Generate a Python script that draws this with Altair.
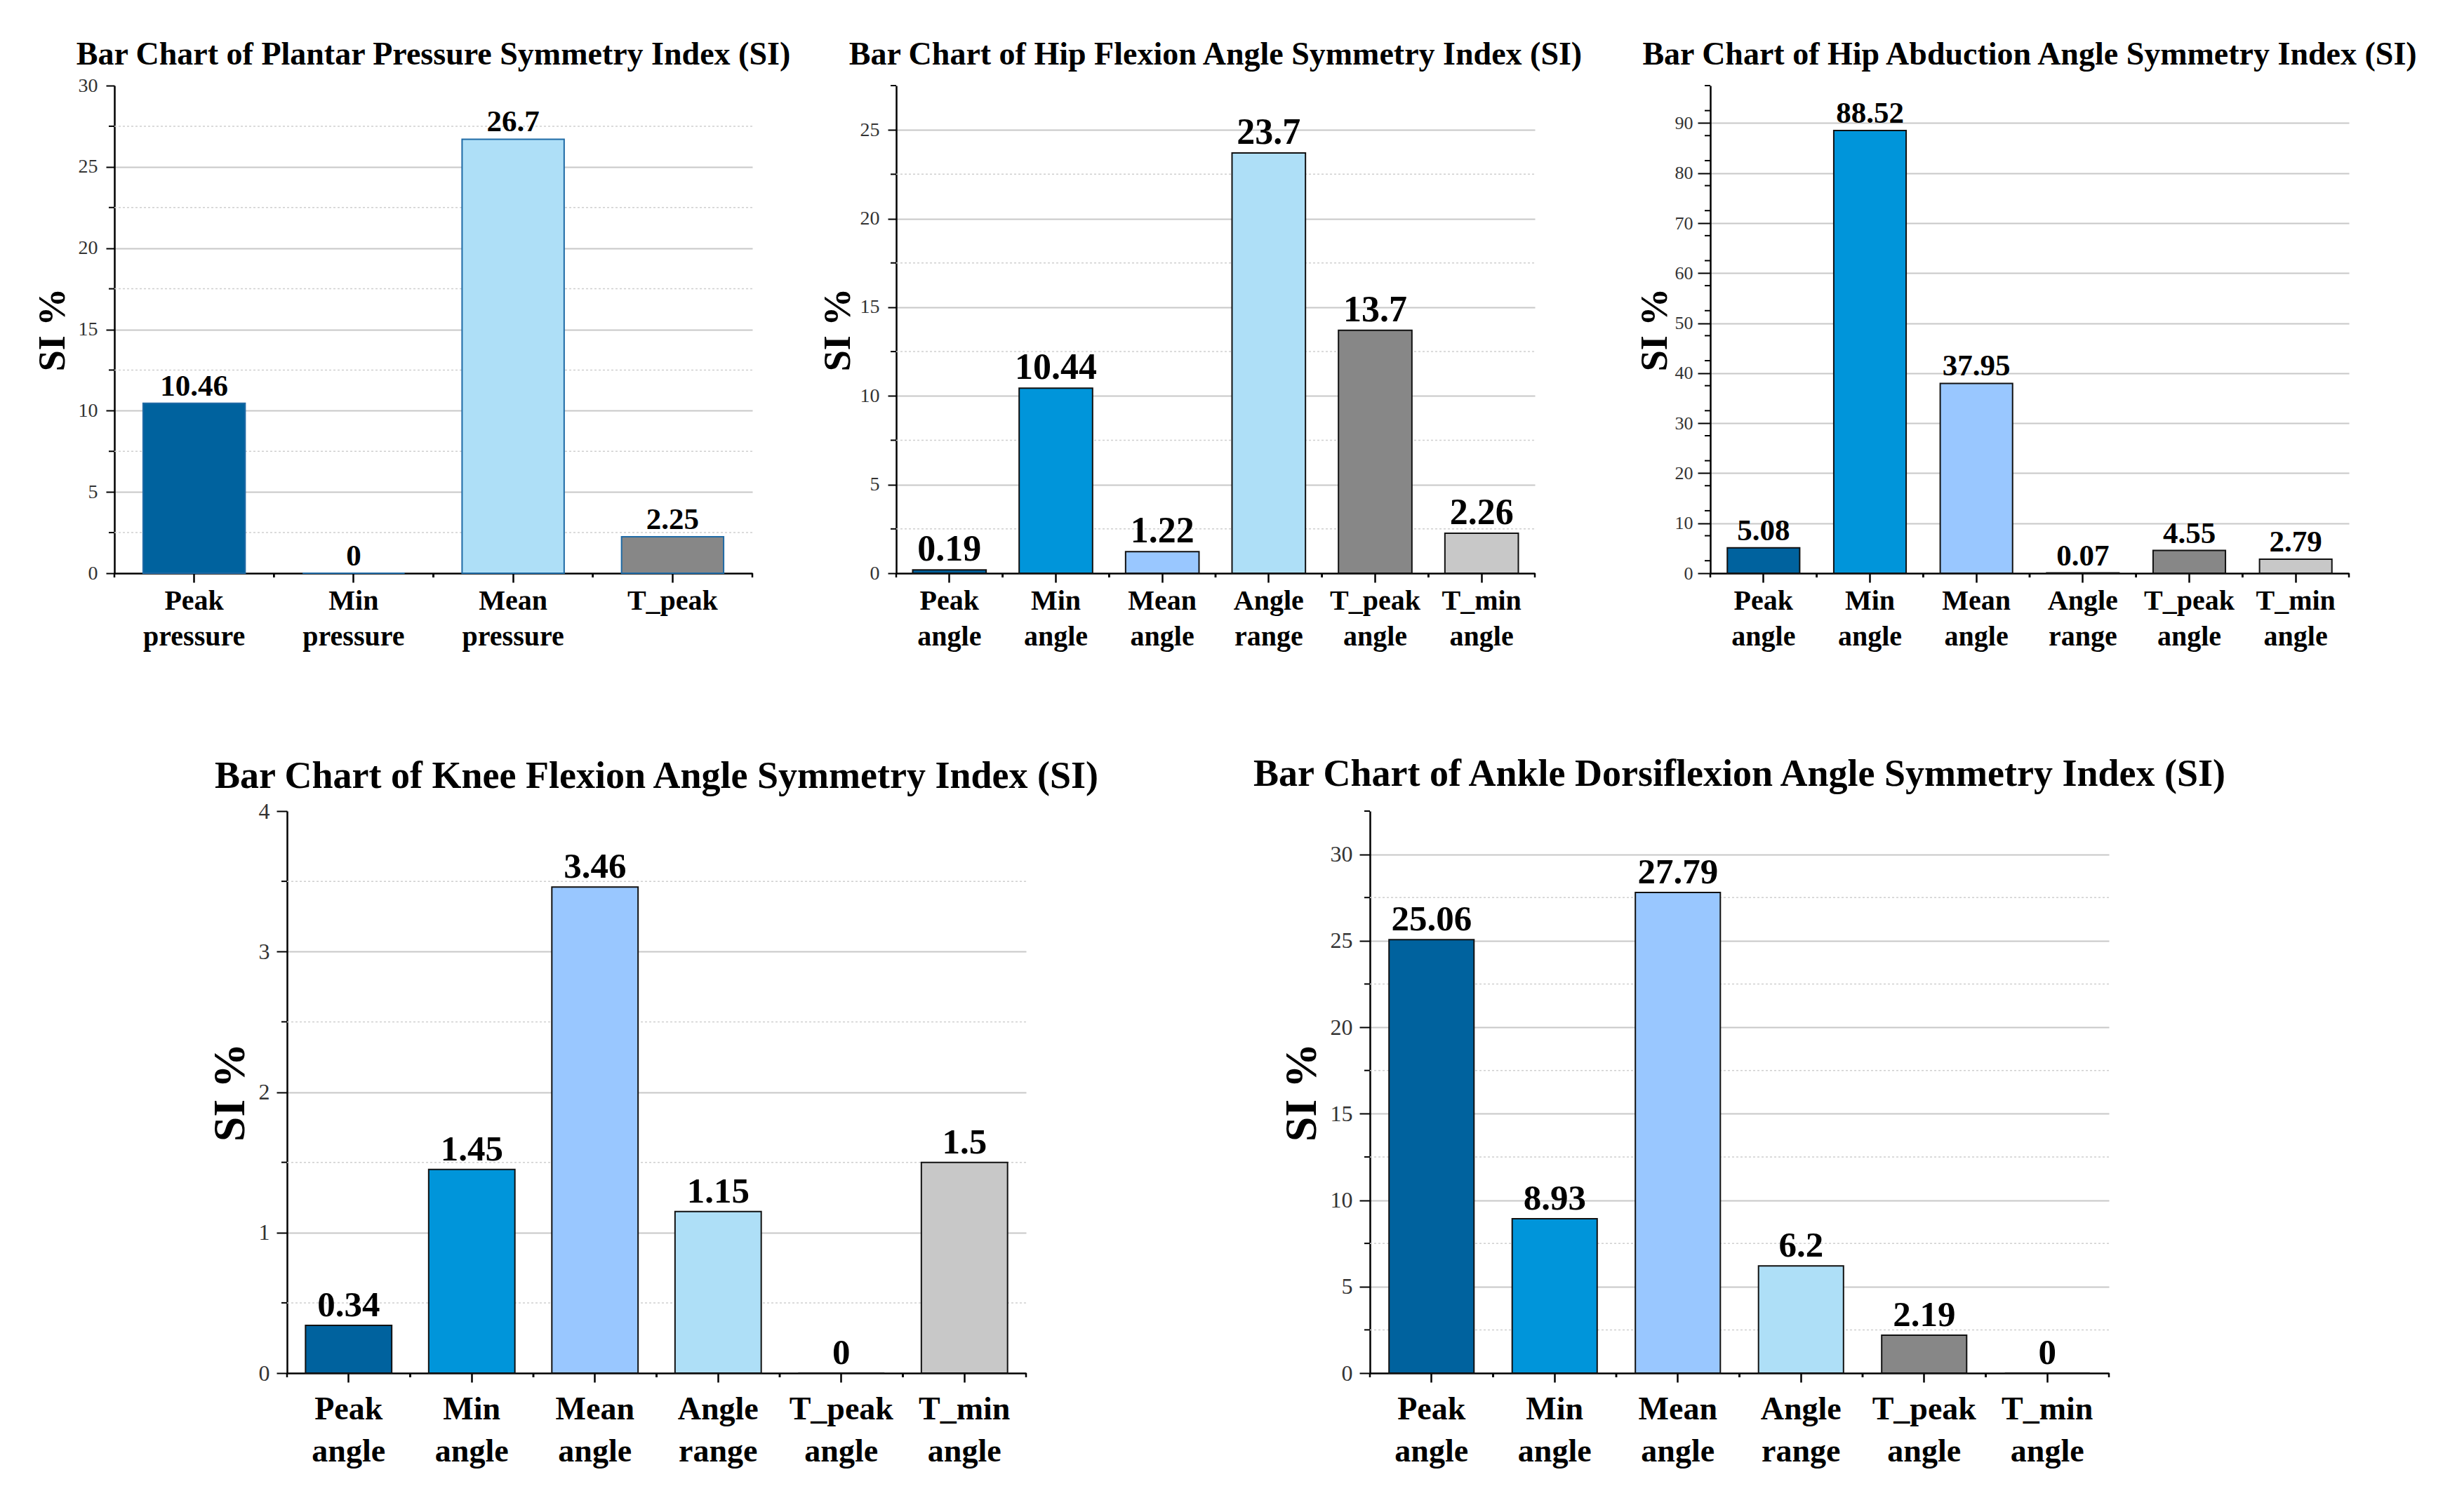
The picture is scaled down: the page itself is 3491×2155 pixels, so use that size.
import altair as alt
import numpy as np
import pandas as pd

FONT = "Liberation Serif"

plantar_cats = ["Peak pressure", "Min pressure", "Mean pressure", "T_peak"]
plantar_si = [10.46, 0, 26.7, 2.25]
plantar_colors = ["#00629E", "#0095DA", "#AEDFF7", "#878787"]

angle_cats = ["Peak angle", "Min angle", "Mean angle", "Angle range", "T_peak angle", "T_min angle"]
angle_colors = ["#00629E", "#0095DA", "#99C7FF", "#AEDFF7", "#878787", "#C8C8C8"]

hip_flex_si = [0.19, 10.44, 1.22, 23.7, 13.7, 2.26]
hip_abd_si = [5.08, 88.52, 37.95, 0.07, 4.55, 2.79]
knee_si = [0.34, 1.45, 3.46, 1.15, 0, 1.5]
ankle_si = [25.06, 8.93, 27.79, 6.2, 2.19, 0]

NO_FRAME = alt.ViewBackground(stroke="transparent", strokeWidth=0)


def panel(title, cats, vals, colors, ymax, step, minor, w, h, s,
          dotted=True, stroke="#111111"):
    df = pd.DataFrame({"cat": cats, "si": vals, "col": colors,
                       "lab": [str(v) for v in vals]})
    ticks = list(np.arange(0, ymax + 1e-9, step))
    minors = [m for m in np.arange(minor, ymax + 1e-9, step) if m % step != 0]
    minor_df = pd.DataFrame({"m": minors})
    grid_df = pd.DataFrame({"m": [m for m in minors if m < ymax]})

    xscale = alt.Scale(domain=cats, paddingInner=0, paddingOuter=0)
    x = alt.X("cat:N", sort=cats, scale=xscale, axis=alt.Axis(
        title=None, labelAngle=0, labelExpr="split(datum.label, ' ')",
        labelFont=FONT, labelFontSize=s["xl"], labelFontWeight="bold",
        labelColor="black", labelLineHeight=s["lh"], labelPadding=s["xp"],
        tickSize=13, tickWidth=2.5, tickColor="black",
        domainColor="black", domainWidth=2.5, grid=False))
    y = alt.Y("si:Q", scale=alt.Scale(domain=[0, ymax], nice=False), axis=alt.Axis(
        values=ticks, format="d", labelOverlap=False,
        title="SI %", titleFont=FONT, titleFontSize=s["yt"],
        titleFontWeight="bold", titleColor="black", titleAngle=270,
        titleX=s["tx"], titleY=h / 2, titleBaseline="middle", titleAlign="center",
        labelFont=FONT, labelFontSize=s["yl"], labelColor="#333333",
        labelPadding=s["yp"], tickSize=s["ts"], tickWidth=2, tickColor="black",
        domainColor="black", domainWidth=2.5,
        gridColor="#c8c8c8", gridWidth=2,
        gridOpacity={"condition": {"test": f"datum.value >= {ymax} || datum.value == 0",
                                   "value": 0}, "value": 1}))

    layers = []
    if dotted and len(grid_df):
        layers.append(alt.Chart(grid_df).mark_rule(
            color="#cfcfcf", strokeWidth=1.5, strokeDash=[3, 3]).encode(
            y="m:Q", x=alt.value(0), x2=alt.value(w)))
    layers.append(alt.Chart(minor_df).mark_rule(color="black", strokeWidth=2).encode(
        y="m:Q", x=alt.value(0), x2=alt.value(-8)))
    layers.append(alt.Chart(df).mark_bar(
        width=alt.RelativeBandSize(s["bw"]), stroke=stroke, strokeWidth=2).encode(
        x=x, y=y, color=alt.Color("col:N", scale=None)))
    for bp in (0, 1):
        layers.append(alt.Chart(df).mark_rule(color="black", strokeWidth=2.5).encode(
            x=alt.X("cat:N", sort=cats, bandPosition=bp),
            y=alt.value(h), y2=alt.value(h + 6)))
    layers.append(alt.Chart(df).mark_text(
        baseline="bottom", dy=-2, font=FONT, fontWeight="bold",
        fontSize=s["vl"], color="black").encode(
        x=alt.X("cat:N", sort=cats), y="si:Q", text="lab:N"))

    return alt.layer(*layers).properties(
        width=w, height=h, view=NO_FRAME,
        title=alt.TitleParams(title, font=FONT, fontSize=s["t"], fontWeight="bold",
                              color="black", anchor="middle", offset=s["to"],
                              frame="group"))


top_s = dict(t=46, to=19, yt=54, yl=28, yp=12, ts=12, xl=40, lh=51, xp=6,
             vl=43, bw=0.64, tx=-88)
c1 = panel("Bar Chart of Plantar Pressure Symmetry Index (SI)", plantar_cats,
           plantar_si, plantar_colors, 30, 5, 2.5, 909, 695,
           dict(top_s, to=6), stroke="#1f6aa5")
c2 = panel("Bar Chart of Hip Flexion Angle Symmetry Index (SI)", angle_cats,
           hip_flex_si, angle_colors, 27.5, 5, 2.5, 910, 695,
           dict(top_s, vl=52, bw=0.69, tx=-83))
c3 = panel("Bar Chart of Hip Abduction Angle Symmetry Index (SI)", angle_cats,
           hip_abd_si, angle_colors, 97.5, 5, 2.5, 910, 695,
           dict(top_s, yl=26, yp=7, ts=18, bw=0.68, tx=-79), dotted=False)

bot_s = dict(t=54, to=6, yt=64, yl=32, yp=10, ts=15, xl=46, lh=60, xp=16,
             vl=51, bw=0.7, tx=-81)
c4 = panel("Bar Chart of Knee Flexion Angle Symmetry Index (SI)", angle_cats,
           knee_si, angle_colors, 4, 1, 0.5, 1053, 801, bot_s)
c5 = panel("Bar Chart of Ankle Dorsiflexion Angle Symmetry Index (SI)", angle_cats,
           ankle_si, angle_colors, 32.5, 5, 2.5, 1053, 801,
           dict(bot_s, to=24, bw=0.69, tx=-97))

# invisible cell that pushes the bottom row to the right
spacer = alt.Chart(pd.DataFrame({"v": [0]})).mark_point(opacity=0).encode(
    x=alt.value(0), y=alt.value(0)).properties(width=246, height=10, view=NO_FRAME)

top = alt.hconcat(c1, alt.hconcat(c2, c3, spacing=250, bounds="flush"),
                  spacing=205, bounds="flush")
bottom = alt.hconcat(spacer, alt.hconcat(c4, c5, spacing=490, bounds="flush"),
                     spacing=0, bounds="flush")

chart = alt.vconcat(top, bottom, spacing=150).properties(
    padding={"left": 40, "top": 47, "right": 5, "bottom": 5},
    background="white",
).configure_view(stroke="transparent", strokeWidth=0).configure(font=FONT)

chart.save("out.html", embed_options={"renderer": "svg", "actions": False})
